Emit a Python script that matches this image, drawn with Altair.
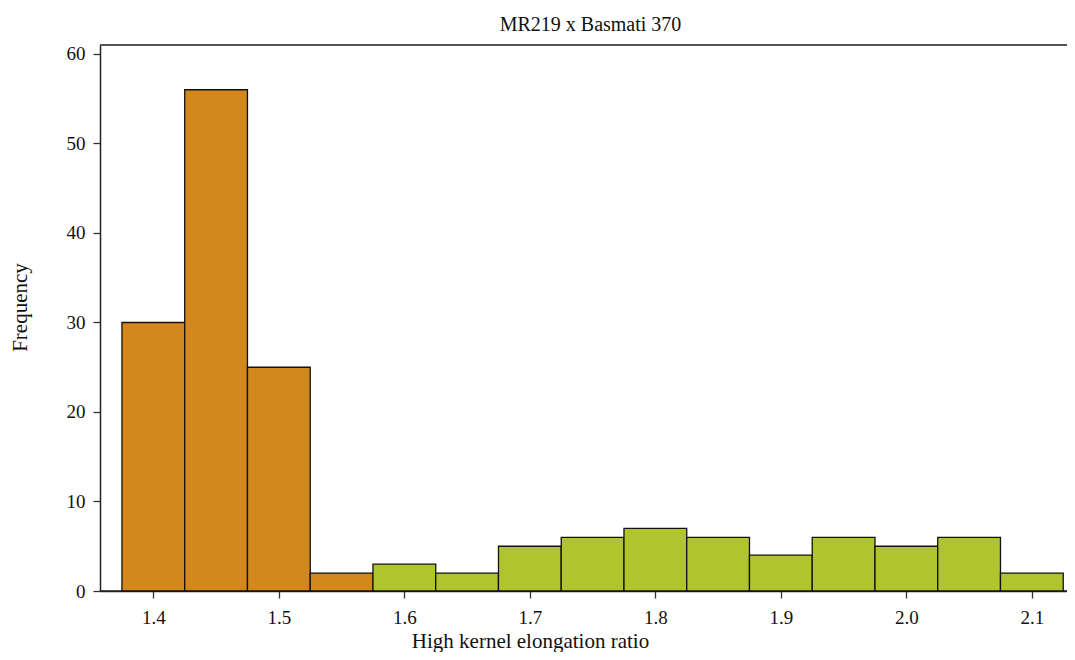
import altair as alt
import pandas as pd

bin_start = [1.375, 1.425, 1.475, 1.525, 1.575, 1.625, 1.675, 1.725,
             1.775, 1.825, 1.875, 1.925, 1.975, 2.025, 2.075]
bin_width = 0.05
counts = [30, 56, 25, 2, 3, 2, 5, 6, 7, 6, 4, 6, 5, 6, 2]
groups = ["low"] * 4 + ["high"] * 11
x_ticks = [1.4, 1.5, 1.6, 1.7, 1.8, 1.9, 2.0, 2.1]
y_ticks = [0, 10, 20, 30, 40, 50, 60]

df = pd.DataFrame({
    "start": bin_start,
    "end": [round(s + bin_width, 3) for s in bin_start],
    "count": counts,
    "group": groups,
})

FONT = "Liberation Serif"
W, H = 967, 546

bars = alt.Chart(df).mark_bar(stroke="#111111", strokeWidth=1.3, opacity=1).encode(
    x=alt.X("start:Q",
            scale=alt.Scale(domain=[1.3575, 2.128], nice=False, zero=False),
            axis=alt.Axis(values=x_ticks, format=".1f", title="High kernel elongation ratio",
                          titleX=430, titleY=56, titleBaseline="alphabetic",
                          titleAlign="center")),
    x2="end:Q",
    y=alt.Y("count:Q",
            scale=alt.Scale(domain=[0, 61], nice=False),
            axis=alt.Axis(values=y_ticks, title="Frequency",
                          titleY=262, titleAlign="center", titleAngle=-90)),
    y2=alt.datum(0),
    color=alt.Color("group:N",
                    scale=alt.Scale(domain=["low", "high"], range=["#D3881D", "#AFC42D"]),
                    legend=None),
)

chart = bars.properties(
    width=W, height=H,
    title=alt.TitleParams("MR219 x Basmati 370", anchor="middle", fontSize=20,
                          font=FONT, fontWeight="normal", color="#111111",
                          offset=10, dx=7),
    autosize=alt.AutoSizeParams(type="none"),
    padding={"left": 92, "top": 37, "right": 0, "bottom": 61},
).configure_view(stroke="#555555", strokeWidth=2, strokeDash=[W, H]).configure_axis(
    grid=False,
    labelFont=FONT, titleFont=FONT,
    labelFontSize=19, titleFontSize=21,
    labelColor="#111111", titleColor="#111111",
    titleFontWeight="normal",
    domainColor="#222222", domainWidth=1.5,
    tickColor="#333333", tickWidth=1.3, tickSize=7,
).configure_axisX(labelPadding=10).configure_axisY(labelPadding=8, titlePadding=36)

chart.save("out.html", embed_options={"renderer": "svg", "actions": False})
